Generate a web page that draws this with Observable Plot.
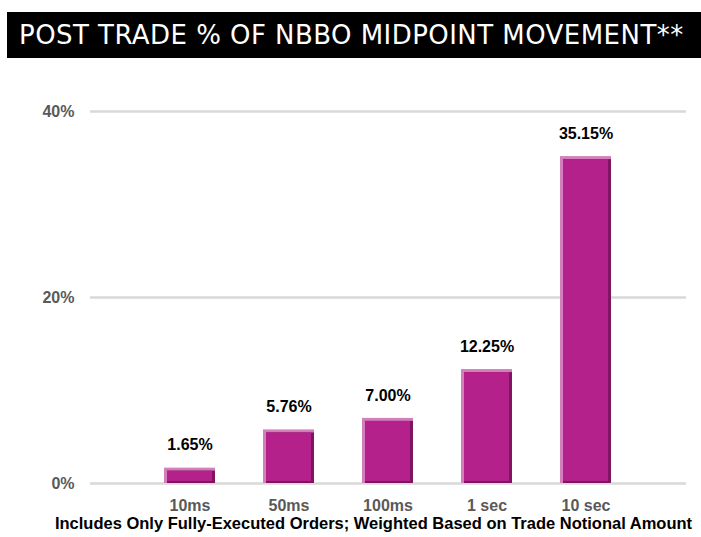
<!DOCTYPE html>
<html>
<head>
<meta charset="utf-8">
<script src="https://cdn.jsdelivr.net/npm/d3@7"></script>
<script src="https://cdn.jsdelivr.net/npm/@observablehq/plot@0.6"></script>
<style>
  html, body { margin: 0; padding: 0; background: #fff; }
  #wrap { position: relative; width: 701px; height: 537px; overflow: hidden; }
  #title {
    position: absolute; left: 7px; top: 12px; width: 694px; height: 46px;
    background: #000; color: #fff; font-family: "DejaVu Sans", sans-serif;
    font-size: 26px; letter-spacing: 0.45px; line-height: 46px; padding-left: 12px; box-sizing: border-box;
    white-space: nowrap; overflow: hidden;
  }
  #chart { position: absolute; left: 0; top: 70px; }
  #caption {
    position: absolute; left: 0px; width: 747px; top: 514px; text-align: center;
    font-family: "Liberation Sans", Arial, sans-serif; font-weight: bold; font-size: 16.5px;
    color: #000; white-space: nowrap;
  }
</style>
</head>
<body>
<div id="wrap">
  <div id="title">POST TRADE % OF NBBO MIDPOINT MOVEMENT**</div>
  <div id="chart"></div>
  <div id="caption">Includes Only Fully-Executed Orders; Weighted Based on Trade Notional Amount</div>
</div>
<script>
const categories = ["10ms", "50ms", "100ms", "1 sec", "10 sec"];
const values = [1.65, 5.76, 7.00, 12.25, 35.15];
const yTicks = [0, 20, 40];

const data = categories.map((c, i) => ({cat: c, v: values[i]}));
const font = "Liberation Sans, Arial, sans-serif";

const chart = Plot.plot({
  width: 701,
  height: 445,
  marginLeft: 90,
  marginRight: 15,
  marginTop: 41,
  marginBottom: 32,
  style: {fontFamily: font, background: "transparent"},
  x: {domain: categories, paddingInner: 0.48, paddingOuter: 0.74, label: null},
  y: {domain: [0, 40], label: null},
  marks: [
    Plot.ruleY(yTicks, {stroke: "#d9d9d9", strokeWidth: 2.5}),
    Plot.barY(data, {x: "cat", y: "v", fill: "#d27fbb"}),
    Plot.barY(data, {x: "cat", y: "v", fill: "#7f1560", insetLeft: 3, insetTop: 3}),
    Plot.barY(data, {x: "cat", y: "v", fill: "#b5218a", insetLeft: 3, insetTop: 3, insetRight: 3, insetBottom: 2}),
    Plot.text(data, {x: "cat", y: "v", text: d => d.v.toFixed(2) + "%", dy: -23, fontWeight: "bold", fontSize: 16, fill: "#000"}),
    Plot.axisY({ticks: yTicks, tickSize: 0, tickPadding: 16, tickFormat: d => d + "%", fontWeight: "bold", fontSize: 16, fill: "#595959"}),
    Plot.axisX({tickSize: 0, tickPadding: 16, fontWeight: "bold", fontSize: 16, fill: "#595959", label: null})
  ]
});
document.getElementById("chart").appendChild(chart);
</script>
</body>
</html>
